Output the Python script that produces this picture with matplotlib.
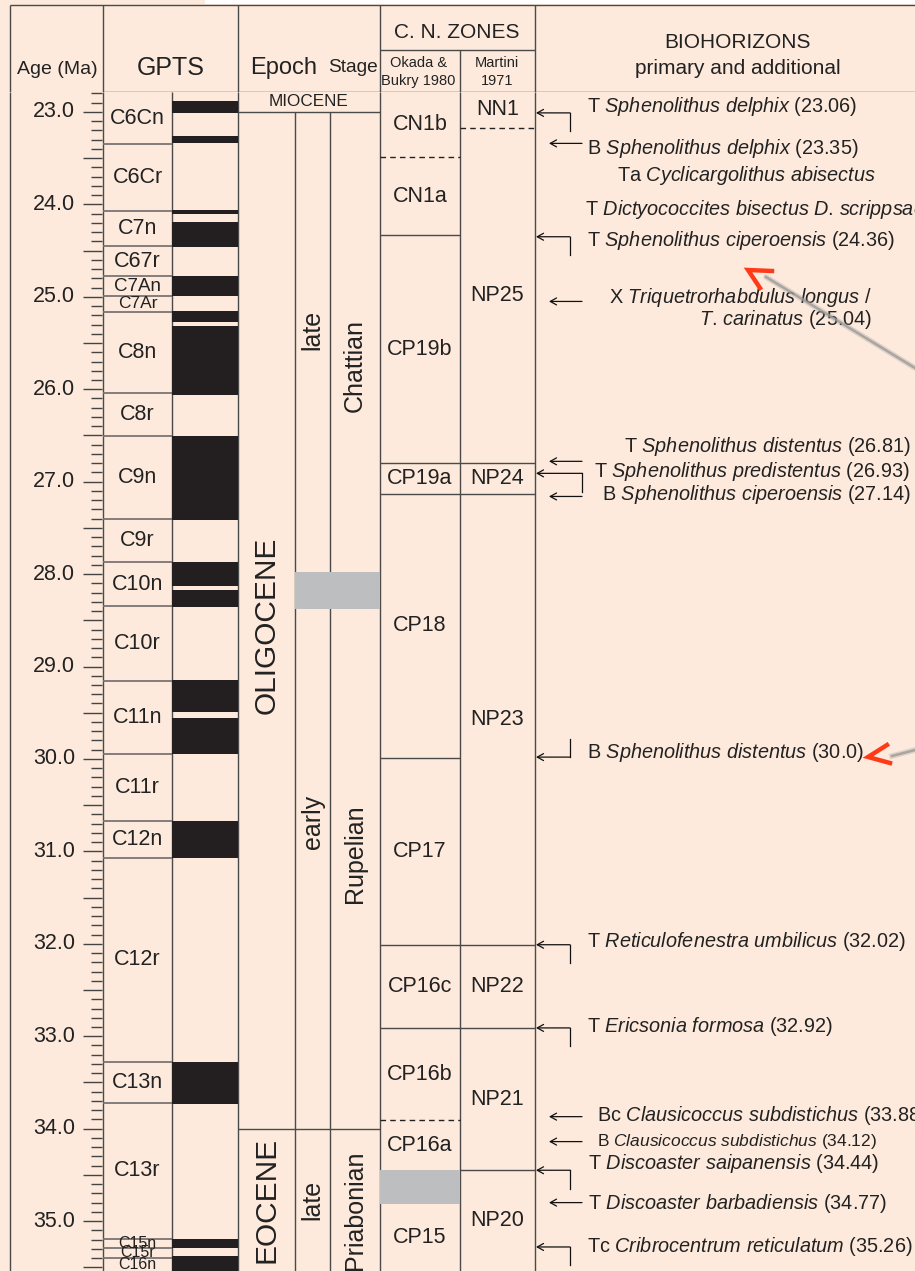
import matplotlib.pyplot as plt
import numpy as np

plt.rcParams['font.family'] = ['Liberation Sans', 'DejaVu Sans']
plt.rcParams['mathtext.fontset'] = 'custom'
plt.rcParams['mathtext.rm'] = 'Liberation Sans'
plt.rcParams['mathtext.it'] = 'Liberation Sans:italic'

W, H = 915, 1271
HEAD = 92            # header height in px
AGE_TOP = 22.784     # age at the header line
AGE_BOT = 35.540     # age at the bottom edge

BG = '#fdeadc'
LINE = '#4a4a4a'
CHRON_LINE = '#7a7474'
BLACK = '#231f20'
GRAY = '#bdbec0'

# ---------------- data ----------------
# GPTS chrons
chron_names = ['C6Cn', 'C6Cr', 'C7n', 'C67r', 'C7An', 'C7Ar', 'C8n', 'C8r', 'C9n', 'C9r',
               'C10n', 'C10r', 'C11n', 'C11r', 'C12n', 'C12r', 'C13n', 'C13r',
               'C15n', 'C15r', 'C16n']
chron_bounds = [22.50, 23.35, 24.07, 24.45, 24.78, 24.99, 25.16, 26.04, 26.51, 27.40,
                27.87, 28.35, 29.16, 29.95, 30.67, 31.07, 33.28, 33.72,
                35.19, 35.29, 35.40, 35.80]
# normal polarity intervals (black)
normal_top = [22.88, 23.26, 24.06, 24.19, 24.77, 25.15, 25.32, 26.51, 27.87, 28.17,
              29.15, 29.56, 30.67, 33.28, 35.19, 35.38]
normal_base = [23.01, 23.34, 24.10, 24.46, 24.99, 25.27, 26.06, 27.41, 28.13, 28.36,
               29.49, 29.95, 31.07, 33.73, 35.29, 35.80]

# epochs / subepochs / stages
epoch_names = ['MIOCENE', 'OLIGOCENE', 'EOCENE']
epoch_bounds = [22.50, 23.00, 34.00, 35.80]
sub_names = ['late', 'early', 'late']
stage_names = ['Chattian', 'Rupelian', 'Priabonian']
sub_gap = (27.98, 28.38)     # uncertain early/late Oligocene boundary

# calcareous nannofossil zones
okada_names = ['CN1b', 'CN1a', 'CP19b', 'CP19a', 'CP18', 'CP17', 'CP16c', 'CP16b', 'CP16a', 'CP15']
okada_top = [22.50, 23.49, 24.33, 26.80, 27.13, 29.99, 32.01, 32.91, 33.91, 34.82]
okada_base = [23.49, 24.33, 26.80, 27.13, 29.99, 32.01, 32.91, 33.91, 34.45, 35.80]
okada_dashed = [23.49, 33.91]
okada_gap = (34.45, 34.82)
martini_names = ['NN1', 'NP25', 'NP24', 'NP23', 'NP22', 'NP21', 'NP20']
martini_bounds = [22.50, 23.17, 26.80, 27.13, 32.01, 32.91, 34.45, 35.80]
martini_dashed = [23.17]

# biohorizons (|...| = italic)
bio_text = [
    ['T |Sphenolithus delphix| (23.06)'],
    ['B |Sphenolithus delphix| (23.35)'],
    ['Ta |Cyclicargolithus abisectus|'],
    ['T |Dictyococcites bisectus D. scrippsae|'],
    ['T |Sphenolithus ciperoensis| (24.36)'],
    ['X |Triquetrorhabdulus longus /|', '|T. carinatus| (25.04)'],
    ['T |Sphenolithus distentus| (26.81)'],
    ['T |Sphenolithus predistentus| (26.93)'],
    ['B |Sphenolithus ciperoensis| (27.14)'],
    ['B |Sphenolithus distentus| (30.0)'],
    ['T |Reticulofenestra umbilicus| (32.02)'],
    ['T |Ericsonia formosa| (32.92)'],
    ['Bc |Clausicoccus subdistichus| (33.88)'],
    ['B |Clausicoccus subdistichus| (34.12)'],
    ['T |Discoaster saipanensis| (34.44)'],
    ['T |Discoaster barbadiensis| (34.77)'],
    ['Tc |Cribrocentrum reticulatum| (35.26)'],
]
arrow_age = [23.01, 23.34, None, None, 24.35, 25.05, 26.78, 26.91, 27.16, 29.98,
             32.01, 32.91, 33.87, 34.14, 34.45, 34.80, 35.28]
arrow_kind = ['elbow', 'line', None, None, 'elbow', 'line', 'line', 'elbow', 'line', 'elbow',
              'elbow', 'elbow', 'line', 'line', 'elbow', 'line', 'elbow']

# ---------------- layout ----------------
X_L, X_GP, X_POL, X_EP, X_SUB, X_ST, X_OK, X_MA, X_BIO = 10, 103, 172, 238, 295, 330, 380, 460, 535
chron_fs = [15.5] * 4 + [13.5, 12.5] + [15.5] * 12 + [11.5, 11.5, 11.5]
epoch_label_age = [None, 28.55, 34.77]
sub_label_age = [25.36, 30.68, 34.77]
stage_label_age = [25.74, 31.02, 34.88]
bio_text_age = [22.943, 23.390, 23.692, 24.060, 24.393, 25.005, 26.621, 26.892, 27.144, 29.935,
                31.970, 32.890, 33.853, 34.134, 34.372, 34.805, 35.277]
bio_text_x = [587, 587, 617, 585, 587, 872, 911, 910, 911, 587, 587, 587, 597, 597, 588, 588, 587]
bio_text_ha = ['left'] * 5 + ['right'] * 4 + ['left'] * 8
bio_text_fs = [14.3] * 13 + [12.5] + [14.3] * 3
elbow_x = {7: 582}


def italic_word(w):
    # keep a trailing period outside math so mathtext adds no punctuation space
    if w.endswith('.'):
        return r'$\mathit{' + w[:-1] + '}$.'
    return r'$\mathit{' + w + '}$'


def italicize(s):
    parts = s.split('|')
    out = ''
    for k, p in enumerate(parts):
        out += ' '.join(italic_word(w) for w in p.split(' ')) if k % 2 else p
    return out


def mid(a, b):
    return (max(a, AGE_TOP) + min(b, AGE_BOT)) / 2


fig = plt.figure(figsize=(W / 100, H / 100), dpi=100)
fig.patch.set_facecolor(BG)

ax = fig.add_axes([0, 0, 1, (H - HEAD) / H])
ax.set_xlim(0, W)
ax.set_ylim(AGE_BOT, AGE_TOP)
ax.axis('off')

hx = fig.add_axes([0, (H - HEAD) / H, 1, HEAD / H])
hx.set_xlim(0, W)
hx.set_ylim(HEAD, 0)
hx.axis('off')

LW = 1.0

# ---- header ----
hx.fill_between([205, W], 0, 4, color='white', lw=0)
hx.hlines(5, X_L, W, colors=LINE, lw=LW)
hx.vlines([X_L, X_GP, X_EP, X_OK, X_BIO], 5, HEAD, colors=LINE, lw=LW)
hx.hlines(HEAD - 0.5, X_GP, W, colors=LINE, lw=LW)
hx.hlines(50, X_OK, X_BIO, colors=LINE, lw=LW)
hx.vlines(X_MA, 50, HEAD, colors=LINE, lw=LW)
hx.text(57, 69, 'Age (Ma)', fontsize=14, ha='center', va='center', color='#222')
hx.text(171, 68, 'GPTS', fontsize=18, ha='center', va='center', color='#222')
hx.text(284, 68, 'Epoch', fontsize=17, ha='center', va='center', color='#222')
hx.text(353, 68, 'Stage', fontsize=13.8, ha='center', va='center', color='#222')
hx.text(457, 32, 'C. N. ZONES', fontsize=15, ha='center', va='center', color='#222')
hx.text(419, 63, 'Okada &', fontsize=10.5, ha='center', va='center', color='#222')
hx.text(418, 81, 'Bukry 1980', fontsize=10.5, ha='center', va='center', color='#222')
hx.text(497, 63, 'Martini', fontsize=10.5, ha='center', va='center', color='#222')
hx.text(497, 81, '1971', fontsize=10.5, ha='center', va='center', color='#222')
hx.text(738, 43, 'BIOHORIZONS', fontsize=15, ha='center', va='center', color='#222')
hx.text(738, 69, 'primary and additional', fontsize=15, ha='center', va='center', color='#222')

# ---- column frame ----
ax.vlines([X_L, X_GP, X_POL, X_EP, X_OK, X_MA, X_BIO], AGE_TOP, AGE_BOT, colors=LINE, lw=LW)
ax.vlines([X_SUB, X_ST], epoch_bounds[1], AGE_BOT, colors=LINE, lw=LW)

# ---- age scale ----
ticks = np.round(np.arange(22.8, 35.55, 0.1), 1)
for t in ticks:
    major = abs(t * 2 - round(t * 2)) < 1e-6
    ax.hlines(t, 83 if major else 91, X_GP - 1, colors='#444', lw=1.0)
    if abs(t - round(t)) < 1e-6:
        ax.text(75, t, f'{t:.1f}', fontsize=15.5, ha='right', va='center', color='#222')

# ---- GPTS ----
ax.bar((X_POL + X_EP) / 2, np.array(normal_base) - np.array(normal_top), bottom=normal_top,
       width=X_EP - X_POL, color=BLACK, lw=0, zorder=2)
ax.hlines(chron_bounds[1:-1], X_GP, X_POL, colors=CHRON_LINE, lw=1.3)
for i, name in enumerate(chron_names):
    ax.text((X_GP + X_POL) / 2, mid(chron_bounds[i], chron_bounds[i + 1]), name,
            fontsize=chron_fs[i], ha='center', va='center', color='#222', zorder=3)

# ---- epochs ----
ax.hlines(epoch_bounds[1:3], X_EP, X_OK, colors=LINE, lw=LW)
ax.text((X_EP + X_OK) / 2, mid(epoch_bounds[0], epoch_bounds[1]), epoch_names[0],
        fontsize=12.3, ha='center', va='center', color='#222')
for i in (1, 2):
    ax.text((X_EP + X_SUB) / 2, epoch_label_age[i], epoch_names[i], fontsize=21.5,
            rotation=90, ha='center', va='center', color='#222')
for i in range(3):
    ax.text((X_SUB + X_ST) / 2, sub_label_age[i], sub_names[i], fontsize=18,
            rotation=90, ha='center', va='center', color='#222')
    ax.text((X_ST + X_OK) / 2, stage_label_age[i], stage_names[i], fontsize=18,
            rotation=90, ha='center', va='center', color='#222')
ax.bar((X_SUB + X_OK) / 2, sub_gap[1] - sub_gap[0], bottom=sub_gap[0], width=X_OK - X_SUB,
       color=GRAY, lw=0, zorder=3)

# ---- zones ----
for b in okada_base[:-1]:
    if b in okada_dashed:
        ax.hlines(b, X_OK, X_MA, colors='#222', lw=1.0, linestyles=(0, (4, 3)))
    elif b != okada_gap[0]:
        ax.hlines(b, X_OK, X_MA, colors=LINE, lw=LW)
ax.bar((X_OK + X_MA) / 2, okada_gap[1] - okada_gap[0], bottom=okada_gap[0], width=X_MA - X_OK,
       color=GRAY, lw=0, zorder=3)
for i, name in enumerate(okada_names):
    ax.text((X_OK + X_MA) / 2, mid(okada_top[i], okada_base[i]), name, fontsize=15.5,
            ha='center', va='center', color='#222')
for b in martini_bounds[1:-1]:
    if b in martini_dashed:
        ax.hlines(b, X_MA, X_BIO, colors='#222', lw=1.0, linestyles=(0, (4, 3)))
    else:
        ax.hlines(b, X_MA, X_BIO, colors=LINE, lw=LW)
for i, name in enumerate(martini_names):
    ax.text((X_MA + X_BIO) / 2, mid(martini_bounds[i], martini_bounds[i + 1]), name,
            fontsize=15.5, ha='center', va='center', color='#222')

# ---- biohorizons ----
ARROW = dict(arrowstyle='->,head_length=0.45,head_width=0.25', color='#111', lw=0.9,
             shrinkA=0, shrinkB=0)
for i, lines in enumerate(bio_text):
    a = arrow_age[i]
    if arrow_kind[i] == 'elbow':
        xe = elbow_x.get(i, 570)
        # tops hang below the marker, bases rise above it
        tail = -0.2 if lines[0].startswith('B ') else 0.2
        ax.plot([xe, xe], [a, a + tail], color='#111', lw=0.9)
        ax.annotate('', xy=(X_BIO + 1, a), xytext=(xe, a), arrowprops=ARROW)
    elif arrow_kind[i] == 'line':
        ax.annotate('', xy=(549, a), xytext=(582, a), arrowprops=ARROW)
    for k, line in enumerate(lines):
        ax.text(bio_text_x[i], bio_text_age[i] + 0.245 * k, italicize(line),
                fontsize=bio_text_fs[i], ha=bio_text_ha[i], va='center', color='#222')

# ---- overlay marks (red pointers) ----
ov = fig.add_axes([0, 0, 1, 1])
ov.set_xlim(0, W)
ov.set_ylim(H, 0)
ov.axis('off')
ov.patch.set_alpha(0)
ov.plot([766, 915], [277, 368], color='#8a8a8a', lw=4, alpha=0.25, solid_capstyle='round')
ov.plot([766, 915], [277, 368], color='#9a9a9a', lw=1.8, alpha=0.8)
ov.plot([772, 748, 760], [271, 270, 288], color='#ff3b17', lw=3.2, solid_joinstyle='miter')
ov.plot([892, 915], [756, 750], color='#8a8a8a', lw=4, alpha=0.25)
ov.plot([892, 915], [756, 750], color='#9a9a9a', lw=1.8, alpha=0.8)
ov.plot([887, 868, 890], [745, 757, 763], color='#ff3b17', lw=3.2, solid_joinstyle='miter')

fig.savefig('out.png', dpi=100, facecolor=BG)
